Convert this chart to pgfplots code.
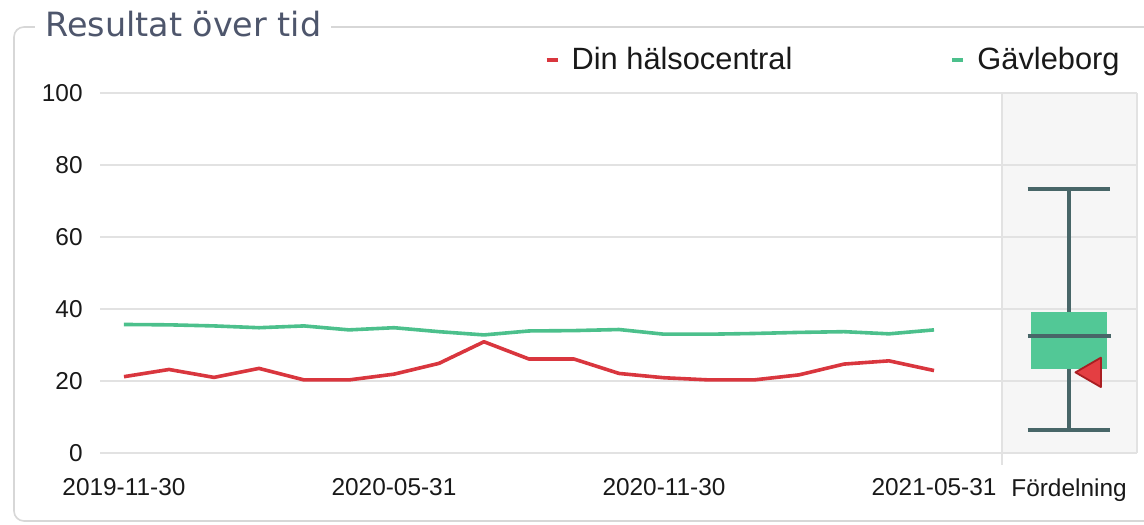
\documentclass[border=0pt]{standalone}
\usepackage{fontspec}
\setmainfont{Liberation Sans}
\newfontfamily\titlefont{DejaVu Sans}
\usepackage{pgfplots}
\pgfplotsset{compat=1.18}
\definecolor{redline}{RGB}{217,54,62}
\definecolor{greenline}{RGB}{76,192,140}
\definecolor{boxgreen}{RGB}{82,200,150}
\definecolor{whisk}{RGB}{72,102,104}
\definecolor{panel}{RGB}{246,246,246}
\definecolor{gridc}{RGB}{226,226,226}
\definecolor{framec}{RGB}{215,215,215}
\definecolor{titlec}{RGB}{78,86,108}
\definecolor{mredfill}{RGB}{228,62,66}
\definecolor{mrededge}{RGB}{170,30,34}
\begin{document}
\begin{tikzpicture}[x=1pt,y=1pt]
\draw[framec, line width=0.8pt, rounded corners=5pt] (530,213) -- (-43,213) -- (-43,-34) -- (530,-34);
\node[anchor=base west, fill=white, inner xsep=5pt, inner ysep=3pt, font=\titlefont\fontsize{16.7}{20}\selectfont, text=titlec] at (-32.5,208) {Resultat över tid};
\begin{axis}[
  at={(0,0)}, anchor=south west,
  width=518.5pt, height=180pt, scale only axis,
  xmin=-0.533, xmax=22.511, ymin=0, ymax=100,
  clip=false, set layers,
  axis line style={draw=none}, tick style={draw=none},
  ytick={0,20,40,60,80,100},
  ymajorgrids, grid style={gridc, line width=0.8pt},
  xtick={0,6,12,18,21},
  xticklabels={2019-11-30,2020-05-31,2020-11-30,2021-05-31,Fördelning},
  tick label style={font=\fontsize{12.2}{14}\selectfont, text=black!90},
  yticklabel style={anchor=east, inner sep=0pt, xshift=-8.5pt},
  xticklabel style={anchor=north, inner sep=0pt, yshift=-12.5pt},
  /pgf/number format/assume math mode=true,
  legend columns=2,
  legend style={at={(0.9836,1.0917)}, anchor=east, draw=none, fill=none, inner sep=0pt,
    font=\fontsize{15.4}{18}\selectfont, text=black!90,
    /tikz/every odd column/.append style={column sep=6pt},
    /tikz/every even column/.append style={column sep=79pt},
    nodes={inner sep=0pt}},
  legend image code/.code={\draw[#1, line width=2pt] (0pt,0pt) -- (5.5pt,0pt);},
]
\addplot[forget plot, fill=panel, draw=none, on layer=axis background] coordinates {(19.51,0) (22.511,0) (22.511,100) (19.51,100)} -- cycle;
\addplot[forget plot, gridc, line width=0.8pt] coordinates {(19.51,-3.3) (19.51,100)};
\addplot[forget plot, gridc, line width=0.8pt] coordinates {(22.511,0) (22.511,100)};

\addplot[redline, line width=1.8pt, line join=round] coordinates {
(0,21.2) (1,23.2) (2,21.0) (3,23.5) (4,20.3) (5,20.3) (6,21.9) (7,24.9) (8,30.9) (9,26.1)
(10,26.1) (11,22.1) (12,20.9) (13,20.3) (14,20.3) (15,21.7) (16,24.7) (17,25.6) (18,22.9)};
\addlegendentry{Din hälsocentral}
\addplot[greenline, line width=1.8pt, line join=round] coordinates {
(0,35.7) (1,35.6) (2,35.3) (3,34.8) (4,35.3) (5,34.2) (6,34.8) (7,33.7) (8,32.8) (9,33.9)
(10,34.0) (11,34.3) (12,33.0) (13,33.0) (14,33.2) (15,33.5) (16,33.7) (17,33.1) (18,34.2)};
\addlegendentry{Gävleborg}

% box plot (Fördelning)
\addplot[forget plot, fill=boxgreen, draw=none] coordinates {(20.145,23.3) (21.855,23.3) (21.855,39.2) (20.145,39.2)} -- cycle;
\addplot[forget plot, whisk, line width=2pt] coordinates {(21,39.2) (21,73.3)};
\addplot[forget plot, whisk, line width=2pt] coordinates {(20.08,73.3) (21.92,73.3)};
\addplot[forget plot, whisk, line width=2pt] coordinates {(21,23.3) (21,6.4)};
\addplot[forget plot, whisk, line width=2pt] coordinates {(20.08,6.4) (21.92,6.4)};
\addplot[forget plot, whisk, line width=2pt] coordinates {(20.08,32.5) (21.93,32.5)};
\addplot[forget plot, only marks, mark=triangle*, mark size=8.5pt, mark options={rotate=90, fill=mredfill, draw=mrededge, line width=0.9pt, line join=round, rounded corners=2.5pt}] coordinates {(21.52,22.4)};
\end{axis}
\pgfresetboundingbox
\path[use as bounding box] (-50,-35.5) rectangle (522,226.5);
\end{tikzpicture}
\end{document}
